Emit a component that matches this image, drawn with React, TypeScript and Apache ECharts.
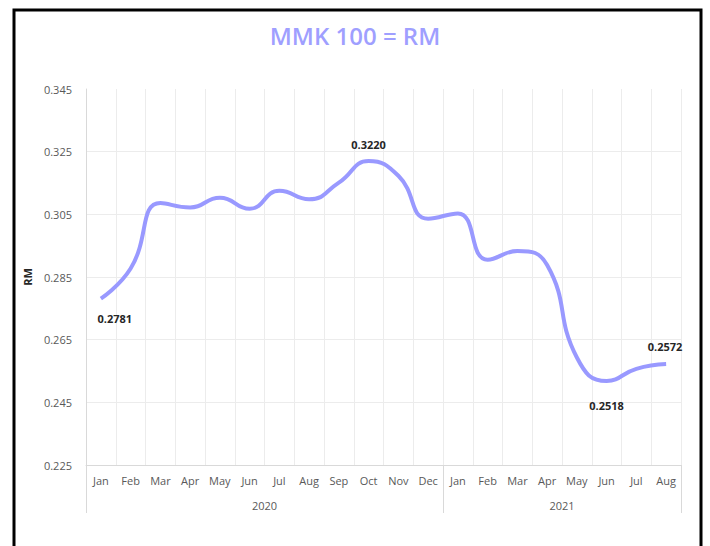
import React, { useEffect, useRef } from "react";
import * as echarts from "echarts";

const months = ["Jan", "Feb", "Mar", "Apr", "May", "Jun", "Jul", "Aug", "Sep", "Oct", "Nov", "Dec", "Jan", "Feb", "Mar", "Apr", "May", "Jun", "Jul", "Aug"];
const years = ["2020", "2021"];
const yearSpans = [12, 8];
const values = [0.2781, 0.2877, 0.3086, 0.3072, 0.3103, 0.3068, 0.3125, 0.3098, 0.3151, 0.322, 0.3173, 0.3036, 0.3053, 0.2905, 0.2933, 0.2888, 0.2593, 0.2518, 0.2557, 0.2572];
const yTicks = [0.225, 0.245, 0.265, 0.285, 0.305, 0.325, 0.345];
const titleText = "MMK 100 = RM";
const yName = "RM";

// which points carry a data label: index -> [position, distance, dx]
const labelSpec: Record<number, [string, number, number]> = {
  0: ["bottom", 13, 14],
  9: ["top", 10, 0],
  17: ["bottom", 18, 0],
  19: ["top", 11, -1],
};

const OFFSET = 0.005; // shift so the axis min sits on a multiple of the 0.02 interval

export default function App() {
  const ref = useRef<HTMLDivElement>(null);
  useEffect(() => {
    if (!ref.current) return;
    const chart = echarts.init(ref.current, undefined, { renderer: "svg" });
    const total = yearSpans.reduce((a, b) => a + b, 0);
    const bounds: number[] = [0];
    yearSpans.forEach((s) => bounds.push(bounds[bounds.length - 1] + s));
    const centers = yearSpans.map((s, i) => bounds[i] + s / 2);
    const interval = yTicks[1] - yTicks[0];
    const font = "'Open Sans', 'Noto Sans', sans-serif";

    const data = values.map((v, i) => {
      const spec = labelSpec[i];
      if (!spec) return { value: v - OFFSET };
      return {
        value: v - OFFSET,
        label: {
          show: true,
          position: spec[0],
          distance: spec[1],
          offset: [spec[2], 0],
          formatter: values[i].toFixed(4),
          fontFamily: font,
          fontSize: 11,
          fontWeight: "bold",
          color: "#262626",
        },
      };
    });

    chart.setOption({
      animation: false,
      backgroundColor: "#ffffff",
      title: {
        text: titleText,
        left: "center",
        top: 18,
        textStyle: { fontFamily: font, fontSize: 24, fontWeight: 600, color: "#9f9fff" },
      },
      graphic: [
        {
          type: "rect",
          shape: { x: 14, y: 10, width: 687, height: 560 },
          style: { fill: "none", stroke: "#000000", lineWidth: 3 },
          silent: true,
        },
      ],
      grid: { left: 86, right: 29, top: 89, bottom: 81, containLabel: false },
      xAxis: [
        {
          type: "category",
          data: months,
          boundaryGap: true,
          axisLine: { show: true, lineStyle: { color: "#d9d9d9" } },
          axisTick: { show: false },
          splitLine: { show: true, lineStyle: { color: "#ececec" } },
          axisLabel: { interval: 0, margin: 10, fontFamily: font, fontSize: 11, color: "#595959" },
        },
        {
          type: "value",
          position: "bottom",
          min: 0,
          max: total,
          axisLine: { show: false },
          splitLine: { show: false },
          axisTick: {
            show: true,
            customValues: bounds,
            length: 48,
            lineStyle: { color: "#d9d9d9" },
          },
          axisLabel: {
            show: true,
            customValues: centers,
            margin: 35,
            fontFamily: font,
            fontSize: 11,
            color: "#595959",
            formatter: (val: number) => {
              const idx = centers.findIndex((c) => Math.abs(c - val) < 1e-6);
              return idx >= 0 ? years[idx] : "";
            },
          },
        },
      ],
      yAxis: {
        type: "value",
        min: yTicks[0] - OFFSET,
        max: yTicks[yTicks.length - 1] - OFFSET,
        interval: interval,
        name: yName,
        nameLocation: "middle",
        nameGap: 39,
        nameTextStyle: { fontFamily: font, fontSize: 11, fontWeight: "bold", color: "#262626" },
        axisLine: { show: true, lineStyle: { color: "#d9d9d9" } },
        axisTick: { show: false },
        splitLine: { show: true, showMaxLine: false, lineStyle: { color: "#ececec" } },
        axisLabel: {
          margin: 14,
          fontFamily: font,
          fontSize: 11,
          color: "#595959",
          formatter: (v: number) => (v + OFFSET).toFixed(3),
        },
      },
      series: [
        {
          type: "line",
          data: data,
          smooth: 0.5,
          symbol: "circle",
          symbolSize: 2,
          showSymbol: true,
          showAllSymbol: true,
          label: { show: false },
          lineStyle: { color: "#9999ff", width: 4 },
          itemStyle: { color: "rgba(153,153,255,0)", borderWidth: 0 },
        },
      ],
    });
    return () => chart.dispose();
  }, []);
  return (
    <div
      ref={ref}
      style={{ position: "fixed", left: 0, top: 0, width: 710, height: 546, background: "#ffffff" }}
    />
  );
}
